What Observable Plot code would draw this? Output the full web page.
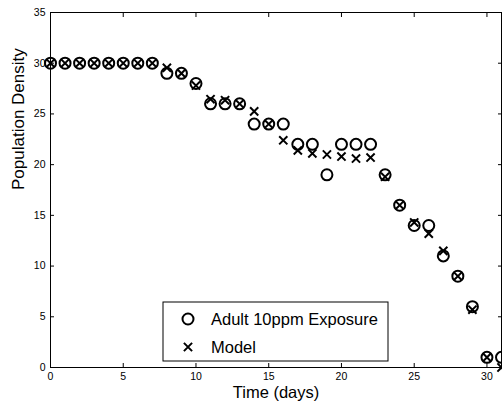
<!DOCTYPE html>
<html>
<head>
<meta charset="utf-8">
<script src="https://cdn.jsdelivr.net/npm/d3@7"></script>
<script src="https://cdn.jsdelivr.net/npm/@observablehq/plot@0.6"></script>
<style>
  html, body { margin: 0; padding: 0; background: #fff; }
  svg { display: block; }
</style>
</head>
<body>
<div id="chart"></div>
<script>
const days = [0,1,2,3,4,5,6,7,8,9,10,11,12,13,14,15,16,17,18,19,20,21,22,23,24,25,26,27,28,29,30,31];
const observed = [30,30,30,30,30,30,30,30,29,29,28,26,26,26,24,24,24,22,22,19,22,22,22,19,16,14,14,11,9,6,1,1];
const model = [30,30,30,30,30,30,30,30,29.55,29,27.8,26.45,26.35,26,25.25,24,22.4,21.4,21.1,21.0,20.8,20.6,20.7,18.8,16,14.3,13.2,11.5,9,5.7,1,0];
const xTicks = [0,5,10,15,20,25,30];
const yTicks = [0,5,10,15,20,25,30,35];
const xLabel = "Time (days)";
const yLabel = "Population Density";
const seriesNames = ["Adult 10ppm Exposure", "Model"];

const data = days.map((d, i) => ({day: d, observed: observed[i], model: model[i]}));
const font = "'Liberation Sans', Arial, Helvetica, sans-serif";

const svg = Plot.plot({
  width: 502,
  height: 410,
  marginLeft: 50,
  marginRight: 1,
  marginTop: 12,
  marginBottom: 43,
  style: {fontFamily: font, fontSize: "10.5px", color: "black", background: "white", overflow: "hidden"},
  x: {domain: [0, 31]},
  y: {domain: [0, 35]},
  marks: [
    Plot.frame({stroke: "black", strokeWidth: 1}),
    Plot.axisX(xTicks, {anchor: "bottom", tickSize: 0, tickPadding: 5, label: null, fill: "black"}),
    Plot.axisX(xTicks, {anchor: "bottom", tickSize: -4, tickFormat: () => "", label: null}),
    Plot.axisX(xTicks, {anchor: "top", tickSize: -4, tickFormat: () => "", label: null}),
    Plot.axisY(yTicks, {anchor: "left", tickSize: 0, tickPadding: 5, label: null, fill: "black"}),
    Plot.axisY(yTicks, {anchor: "left", tickSize: -4, tickFormat: () => "", label: null}),
    Plot.axisY(yTicks, {anchor: "right", tickSize: -4, tickFormat: () => "", label: null}),
    Plot.text([xLabel], {frameAnchor: "bottom", dy: 30, fontSize: 16.5, fill: "black"}),
    Plot.text([yLabel], {frameAnchor: "left", dx: -32, rotate: -90, fontSize: 17, fill: "black"}),
    Plot.dot(data, {x: "day", y: "observed", r: 5.5, stroke: "black", strokeWidth: 2, fill: "none"}),
    Plot.dot(data, {x: "day", y: "model", symbol: "times", r: 3.8, stroke: "black", strokeWidth: 2})
  ]
});

// legend box (MATLAB-style, inside the axes)
const s = d3.select(svg);
const lg = s.append("g").attr("font-family", font).attr("font-size", 16.5).attr("text-anchor", "start");
lg.append("rect").attr("x", 163).attr("y", 302).attr("width", 225).attr("height", 59)
  .attr("fill", "white").attr("stroke", "black").attr("stroke-width", 1);
lg.append("circle").attr("cx", 188).attr("cy", 319).attr("r", 5.5)
  .attr("fill", "none").attr("stroke", "black").attr("stroke-width", 2);
lg.append("path").attr("d", d3.symbol(d3.symbolTimes, 3.8 * 3.8 * Math.PI)())
  .attr("transform", "translate(188,347)")
  .attr("fill", "none").attr("stroke", "black").attr("stroke-width", 2);
lg.append("text").attr("x", 211).attr("y", 319).attr("dy", "0.35em").attr("fill", "black").attr("text-anchor", "start").text(seriesNames[0]);
lg.append("text").attr("x", 211).attr("y", 347).attr("dy", "0.35em").attr("fill", "black").attr("text-anchor", "start").text(seriesNames[1]);

document.getElementById("chart").appendChild(svg);
</script>
</body>
</html>
